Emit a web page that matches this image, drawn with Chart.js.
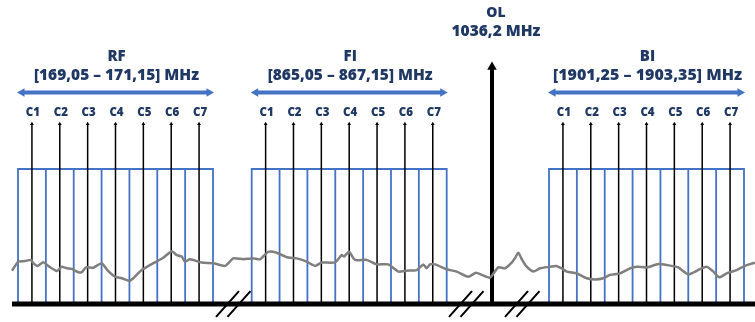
<!DOCTYPE html>
<html><head><meta charset="utf-8">
<script src="https://cdn.jsdelivr.net/npm/chart.js@4"></script>
<style>html,body{margin:0;padding:0;background:#fff}#wrap{width:755px;height:322px;position:relative}</style>
</head><body><div id="wrap"><canvas id="c"></canvas></div>
<script>
// ---------------- DATA ----------------
const bandNames = ['RF', 'FI', 'BI'];
const bandLowMHz = [169.05, 865.05, 1901.25];
const bandHighMHz = [171.15, 867.15, 1903.35];
const channelLabels = ['C1', 'C2', 'C3', 'C4', 'C5', 'C6', 'C7'];
const channelWidthMHz = 0.3;
const olLabel = 'OL';
const olMHz = 1036.2;
// noise floor trace (display position along the broken axis, relative level)
const noisePos = [12,18.3,25,31,33.3,37.3,43.3,48.3,56.7,61.7,66.7,71.7,78.3,81.7,86,93.3,101.7,107.3,115,121.7,129.3,133.3,141.7,153.3,163.3,171.7,176.7,181.7,185,190,201.7,213.3,225,233.3,243.3,253.3,260,268.3,276.7,286.7,296.7,306.7,315,321.7,335,341.7,344,349,355,366.7,376.7,388.3,398.3,406.7,416.7,423.3,426.7,430,435,446.7,456.7,468.3,476,481.7,490,498.3,505,511.7,515,518.3,521.7,526,533.3,540,550,556,561.7,566.7,576.7,586.7,595,603.3,610,620,630,636.7,646.7,658.3,666.7,678.3,688.3,700,706.7,713.3,719.3,726.7,736.7,745,750,755];
const noiseLevel = [11.1,14.1,14.3,14.7,13.6,12.7,13.9,12.7,11.0,12.4,11.9,11.7,10.6,10.6,12.2,12.1,13.6,11.3,9.1,8.6,7.7,8.6,11.3,13.6,15.4,17.6,16.3,15.8,14.1,14.9,13.8,13.6,12.7,15.2,14.9,15.2,14.9,17.4,17.1,15.6,15.2,14.1,12.7,13.8,13.9,16.3,15.8,17.4,14.7,14.7,13.2,13.2,10.8,11.1,11.3,13.2,11.9,13.2,13.2,11.6,10.8,9.1,10.4,9.7,8.8,12.2,11.9,13.8,15.3,17.1,15.0,12.7,10.8,11.9,12.4,12.7,11.9,10.8,10.2,8.6,8.2,8.6,9.7,10.2,11.9,12.4,12.2,13.3,13.0,12.2,9.9,11.6,12.4,10.8,8.9,10.2,11.3,12.7,13.3,13.8];

// ---------------- LAYOUT ----------------
const X_MIN = 0, X_MAX = 755, Y_MIN = -6, Y_MAX = 101.33;
const bandStart = [18, 251.7, 549];
const bandSpan = 195;
const olPos = 492;
const axisStart = 12;
const breakPos = [233, 466, 522];
const boxTop = 45, chanTop = 60, olTop = 82, arrowLevel = 70.5;
const BLUE = '#4472c4', NAVY = '#203864', GREY = '#7f7f7f';
const FONT = '"Open Sans", Roboto, sans-serif';
const WEIGHT = '800';

function toDisp(b, f) {
  return bandStart[b] + (f - bandLowMHz[b]) / (bandHighMHz[b] - bandLowMHz[b]) * bandSpan;
}
function fmt(v) { return String(v).replace('.', ','); }
function fmt2(v) { return v.toFixed(2).replace('.', ','); }

const datasets = [];
const GAP = (x) => ({ x: x, y: null });

bandNames.forEach((name, b) => {
  const nCh = channelLabels.length;
  const box = [];
  const x0 = toDisp(b, bandLowMHz[b]), x1 = toDisp(b, bandHighMHz[b]);
  box.push({ x: x0, y: 0 }, { x: x0, y: boxTop }, { x: x1, y: boxTop }, { x: x1, y: 0 }, GAP(x1));
  for (let k = 1; k < nCh; k++) {
    const xb = toDisp(b, bandLowMHz[b] + k * channelWidthMHz);
    box.push({ x: xb, y: 0 }, { x: xb, y: boxTop }, GAP(xb));
  }
  datasets.push({ type: 'line', data: box, borderColor: BLUE, borderWidth: 1.8, pointRadius: 0, spanGaps: false, order: 4, parsing: false, tension: 0 });
  const ch = [];
  channelLabels.forEach((c, k) => {
    const xc = toDisp(b, bandLowMHz[b] + (k + 0.5) * channelWidthMHz);
    ch.push({ x: xc, y: 0 }, { x: xc, y: chanTop }, GAP(xc));
  });
  datasets.push({ type: 'line', data: ch, borderColor: '#000', borderWidth: 1.5, spanGaps: false, order: 2, parsing: false,
    pointStyle: 'triangle', backgroundColor: '#000', pointBorderWidth: 0,
    pointRadius: (ctx) => (ctx.raw && ctx.raw.y === chanTop ? 2.2 : 0) });
  datasets.push({ type: 'line', data: [{ x: x0 + 4, y: arrowLevel }, { x: x1 - 4, y: arrowLevel }], borderColor: BLUE, borderWidth: 4, order: 3, parsing: false,
    pointStyle: 'triangle', backgroundColor: BLUE, pointBorderWidth: 0, pointRadius: 5, pointRotation: [270, 90] });
});

datasets.push({ type: 'line', data: [{ x: olPos, y: 0 }, { x: olPos, y: olTop - 3 }], borderColor: '#000', borderWidth: 4, order: 2, parsing: false,
  pointStyle: 'triangle', backgroundColor: '#000', pointBorderWidth: 0, pointRadius: [0, 5.5] });

datasets.push({ type: 'line', data: noisePos.map((x, i) => ({ x: x, y: noiseLevel[i] })), borderColor: GREY, borderWidth: 2.5, pointRadius: 0, order: 1, parsing: false, tension: 0.2, borderJoinStyle: 'round' });

datasets.push({ type: 'line', data: [{ x: axisStart, y: 0 }, { x: X_MAX, y: 0 }], borderColor: '#000', borderWidth: 5, pointRadius: 0, order: 0, parsing: false });

const br = [];
breakPos.forEach(c => {
  br.push({ x: c - 17, y: -4.3 }, { x: c + 6, y: 4.3 }, GAP(c + 6), { x: c - 5.5, y: -4.3 }, { x: c + 17.5, y: 4.3 }, GAP(c + 17.5));
});
datasets.push({ type: 'line', data: br, borderColor: '#000', borderWidth: 2, pointRadius: 0, spanGaps: false, order: 0, parsing: false });

function fitText(ctx, text, x, y, width) {
  ctx.font = WEIGHT + ' 14px ' + FONT;
  const w = ctx.measureText(text).width;
  const size = Math.round(14 * width / w * 2) / 2;
  ctx.font = WEIGHT + ' ' + size + 'px ' + FONT;
  ctx.fillText(text, x, y);
  return size;
}

const labelPlugin = {
  id: 'labels',
  afterDatasetsDraw(chart) {
    const ctx = chart.ctx, xs = chart.scales.x, ys = chart.scales.y;
    ctx.save();
    ctx.fillStyle = NAVY;
    ctx.textAlign = 'center';
    ctx.textBaseline = 'middle';
    bandNames.forEach((name, b) => {
      const xc = xs.getPixelForValue((toDisp(b, bandLowMHz[b]) + toDisp(b, bandHighMHz[b])) / 2) + 1;
      const rangeTxt = '[' + fmt2(bandLowMHz[b]) + ' \u2013 ' + fmt2(bandHighMHz[b]) + '] MHz';
      fitText(ctx, rangeTxt, xc, ys.getPixelForValue(76.3), b === 2 ? 190 : 166);
      ctx.font = WEIGHT + ' 15px ' + FONT;
      ctx.fillText(name, xc, ys.getPixelForValue(82.5));
    });
    ctx.font = WEIGHT + ' 11.5px ' + FONT;
    bandNames.forEach((name, b) => {
      channelLabels.forEach((c, k) => {
        const x = xs.getPixelForValue(toDisp(b, bandLowMHz[b] + (k + 0.5) * channelWidthMHz));
        ctx.fillText(c, x + 1, ys.getPixelForValue(63.8));
      });
    });
    const xo = xs.getPixelForValue(olPos) + 4;
    fitText(ctx, fmt(olMHz) + ' MHz', xo, ys.getPixelForValue(90.8), 89);
    ctx.font = WEIGHT + ' 14px ' + FONT;
    ctx.fillText(olLabel, xo, ys.getPixelForValue(97));
    ctx.restore();
  }
};

new Chart(document.getElementById('c'), {
  type: 'line',
  data: { datasets: datasets },
  options: {
    responsive: true, maintainAspectRatio: false, animation: false,
    layout: { padding: 0, autoPadding: false },
    plugins: { legend: { display: false }, tooltip: { enabled: false } },
    scales: {
      x: { type: 'linear', min: X_MIN, max: X_MAX, display: false },
      y: { type: 'linear', min: Y_MIN, max: Y_MAX, display: false }
    }
  },
  plugins: [labelPlugin]
});
</script></body></html>
